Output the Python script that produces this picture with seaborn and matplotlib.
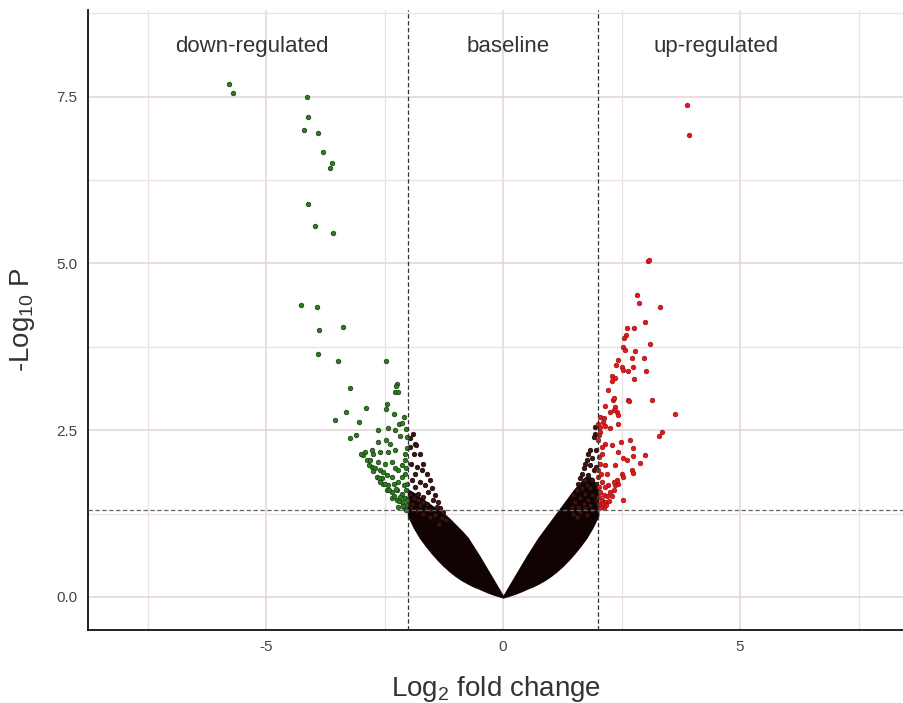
import numpy as np
import pandas as pd
import matplotlib
matplotlib.use("Agg")
import matplotlib.pyplot as plt
import seaborn as sns

# ---- significant genes, down-regulated (log2 FC < -2, p < 0.05) ----
down_x = [-5.78, -5.70, -4.14, -4.12, -4.20, -3.91, -3.81, -3.62, -3.66, -4.11,
          -3.97, -3.59, -4.27, -3.92, -3.89, -3.37, -3.91, -3.49, -2.48,
          -3.23, -2.24, -2.26, -2.28, -2.22, -2.89, -2.45, -2.47, -3.31, -3.54,
          -3.04, -2.31, -2.09, -2.19, -2.14, -2.42, -2.28, -2.64, -3.24, -3.10,
          -2.17, -2.64, -2.47, -2.38, -2.28, -2.02, -2.77, -2.75, -2.59, -2.91,
          -2.95, -3.00, -2.42, -2.88, -2.81, -2.63, -2.49, -2.35, -2.14, -2.07,
          -2.77, -2.70, -2.59, -2.53, -2.28, -2.21, -2.66, -2.56, -2.45, -2.35,
          -2.14, -2.07, -2.53, -2.42, -2.31, -2.21, -2.10, -2.45, -2.35, -2.24,
          -2.14, -2.05, -2.35, -2.24, -2.14, -2.07, -2.21, -2.10, -2.05,
          -2.84, -2.74, -2.62, -2.50, -2.40, -2.30, -2.20, -2.12, -2.04, -2.60,
          -2.27, -2.18, -2.03, -2.03, -2.04, -2.06, -2.02, -2.05]
down_y = [7.69, 7.56, 7.50, 7.20, 7.00, 6.95, 6.67, 6.51, 6.43, 5.89,
          5.56, 5.46, 4.37, 4.35, 4.00, 4.05, 3.65, 3.54, 3.54,
          3.13, 3.19, 3.16, 3.08, 3.08, 2.84, 2.90, 2.82, 2.77, 2.65,
          2.62, 2.75, 2.70, 2.60, 2.61, 2.53, 2.51, 2.50, 2.38, 2.43,
          2.41, 2.33, 2.35, 2.30, 2.21, 2.24, 2.21, 2.15, 2.18, 2.18,
          2.13, 2.14, 2.18, 2.05, 2.06, 2.03, 2.00, 2.03, 1.98, 2.05,
          1.95, 1.93, 1.90, 1.88, 1.93, 1.90, 1.80, 1.78, 1.83, 1.80,
          1.80, 1.85, 1.70, 1.68, 1.70, 1.73, 1.68, 1.60, 1.58, 1.60,
          1.55, 1.60, 1.48, 1.45, 1.43, 1.48, 1.35, 1.33, 1.38,
          1.98, 1.89, 1.79, 1.69, 1.60, 1.52, 1.44, 1.37, 1.31, 1.72,
          1.62, 1.50, 1.45, 1.70, 1.93, 2.15, 2.40, 2.52]

# ---- significant genes, up-regulated (log2 FC > 2, p < 0.05) ----
up_x = [3.88, 3.93, 3.05, 3.08, 2.82, 2.86, 3.31, 3.00, 2.61, 2.76,
        2.59, 2.55, 3.09, 2.54, 2.57, 2.79, 2.43, 2.71, 2.98, 2.38,
        2.50, 2.54, 2.75, 2.63, 3.01, 2.29, 2.36, 2.76, 2.22, 2.31,
        2.63, 3.14, 2.15, 2.36, 2.40, 2.34, 2.43, 3.63, 2.05, 2.12,
        2.01, 2.15, 2.26, 2.43, 3.35, 3.28, 2.05, 2.02, 2.01, 2.15,
        2.29, 2.48, 2.68, 2.74, 2.43, 2.08, 2.54, 2.61, 3.00, 2.75,
        2.89, 2.36, 2.15, 2.19, 2.71, 2.75, 2.50, 2.54, 2.40, 2.43,
        2.36, 2.33, 2.22, 2.15, 2.08, 2.05, 2.12, 2.08, 2.15, 2.19,
        2.26, 2.29, 2.33, 2.54, 2.05, 2.12, 2.01, 2.05, 2.01,
        2.03, 2.02, 2.06, 2.03, 2.08, 2.04, 2.10, 2.02, 2.10, 2.18, 2.24,
        2.29, 2.33, 2.65, 2.26]
up_y = [7.38, 6.92, 5.03, 5.05, 4.53, 4.40, 4.35, 4.13, 4.03, 4.03,
        3.93, 3.88, 3.79, 3.75, 3.70, 3.69, 3.56, 3.58, 3.59, 3.48,
        3.45, 3.40, 3.45, 3.39, 3.39, 3.31, 3.29, 3.27, 3.10, 2.96,
        2.95, 2.95, 2.86, 2.85, 2.78, 2.80, 2.73, 2.74, 2.70, 2.68,
        2.60, 2.56, 2.53, 2.60, 2.47, 2.41, 2.48, 2.43, 2.35, 2.30,
        2.28, 2.33, 2.35, 2.23, 2.18, 2.15, 2.08, 2.05, 2.13, 2.11,
        2.01, 1.98, 1.98, 1.85, 1.90, 1.86, 1.85, 1.80, 1.75, 1.70,
        1.68, 1.73, 1.68, 1.65, 1.73, 1.58, 1.53, 1.45, 1.43, 1.51,
        1.58, 1.51, 1.60, 1.45, 1.35, 1.33, 1.90, 2.00, 1.80,
        1.50, 1.65, 1.85, 2.10, 2.25, 2.55, 2.62, 1.40, 1.40, 1.38, 1.44,
        3.24, 2.99, 2.94, 2.78]

# ---- baseline genes in the sparse upper part of each arm ----
mid_x = [-1.91, -1.96, -1.86, -1.84, -1.75, -1.89, -1.68, -1.82, -1.72, -1.86,
         -1.61, -1.54, -1.75, -1.65, -1.86, -1.50, -1.58, -1.79, -1.68, -1.89,
         -1.43, -1.47, -1.61, -1.75, -1.37, -1.82, -1.54, -1.33, -1.68, -1.43,
         -1.26, -1.95, -1.93, -1.97, -1.95, -1.97, -1.40, -1.30, -1.20, -1.35,
         -1.55, -1.62, -1.70, -1.80, -1.92,
         1.94, 1.91, 1.84, 1.80, 1.87, 1.77, 1.73, 1.84, 1.70, 1.91,
         1.66, 1.80, 1.62, 1.73, 1.87, 1.59, 1.77, 1.66, 1.84, 1.55,
         1.73, 1.48, 1.87, 1.62, 1.80, 1.52, 1.70, 1.84, 1.59, 1.45,
         1.73, 1.87, 1.62, 1.48, 1.77, 1.55, 1.96, 1.97, 1.95, 1.96, 1.93]
mid_y = [2.45, 2.38, 2.30, 2.28, 2.15, 2.15, 2.00, 1.95, 1.90, 1.85,
         1.85, 1.76, 1.73, 1.68, 1.65, 1.63, 1.58, 1.55, 1.50, 1.48,
         1.53, 1.45, 1.40, 1.38, 1.43, 1.30, 1.30, 1.33, 1.25, 1.23,
         1.28, 2.00, 1.75, 1.55, 1.35, 2.25, 1.35, 1.18, 1.15, 1.10,
         1.20, 1.32, 1.42, 1.45, 1.40,
         2.45, 2.40, 2.20, 2.15, 2.08, 2.05, 2.00, 1.98, 1.93, 1.90,
         1.85, 1.83, 1.78, 1.75, 1.75, 1.70, 1.68, 1.63, 1.63, 1.60,
         1.55, 1.53, 1.53, 1.48, 1.45, 1.43, 1.40, 1.38, 1.35, 1.35,
         1.33, 1.30, 1.28, 1.25, 1.23, 1.20, 2.20, 1.95, 1.70, 1.45, 2.55]

# ---- envelope of the densely packed baseline genes (|log2 FC| vs -log10 P) ----
core_abs_fc = [0.0, 0.125, 0.25, 0.375, 0.5, 0.625, 0.75, 0.875, 1.0,
               1.125, 1.25, 1.375, 1.5, 1.625, 1.75, 1.875, 2.0]
core_low = [0.0, 0.025, 0.055, 0.09, 0.13, 0.165, 0.21, 0.26, 0.32,
            0.39, 0.47, 0.56, 0.66, 0.77, 0.89, 1.04, 1.22]
core_high_left = [0.0, 0.15, 0.30, 0.45, 0.60, 0.74, 0.88, 0.98, 1.07,
                  1.16, 1.24, 1.30, 1.36, 1.42, 1.48, 1.55, 1.60]
core_high_right = [0.0, 0.15, 0.30, 0.45, 0.60, 0.74, 0.88, 1.00, 1.12,
                   1.24, 1.36, 1.48, 1.60, 1.70, 1.80, 1.78, 1.60]

fc_cutoff = 2.0
p_cutoff = 1.3   # -log10(0.05)

x_ticks = [-5, 0, 5]
x_tick_labels = ["-5", "0", "5"]
y_ticks = [0.0, 2.5, 5.0, 7.5]
y_tick_labels = ["0.0", "2.5", "5.0", "7.5"]

region_labels = ["down-regulated", "baseline", "up-regulated"]
region_label_x = [-5.3, 0.1, 4.5]
region_label_y = 8.25

df = pd.concat([
    pd.DataFrame({"log2fc": down_x, "nlp": down_y, "group": "down"}),
    pd.DataFrame({"log2fc": up_x, "nlp": up_y, "group": "up"}),
    pd.DataFrame({"log2fc": mid_x, "nlp": mid_y, "group": "ns"}),
], ignore_index=True)

sns.set_theme(style="white")
plt.rcParams["font.family"] = ["Liberation Sans", "DejaVu Sans"]
plt.rcParams["mathtext.default"] = "regular"

fig = plt.figure(figsize=(9.04, 7.03), dpi=100)
ax = fig.add_axes([88 / 904, 73 / 703, 816 / 904, 620 / 703])
ax.set_xlim(-8.76, 8.46)
ax.set_ylim(-0.495, 8.80)

# grid: majors at ticks, minors half-way
ax.set_xticks(x_ticks)
ax.set_xticks([-7.5, -2.5, 2.5, 7.5], minor=True)
ax.set_yticks(y_ticks)
ax.set_yticks([1.25, 3.75, 6.25, 8.75], minor=True)
ax.grid(which="major", color="#e2d3d8", lw=1.1)
ax.grid(which="minor", color="#ebe1e4", lw=0.9)
ax.set_axisbelow(True)

# dense non-significant cloud
core_abs = np.array(core_abs_fc)
ax.fill_between(-core_abs, core_low, core_high_left, color="#120303",
                lw=1.5, edgecolor="#120303", zorder=2)
ax.fill_between(core_abs, core_low, core_high_right, color="#120303",
                lw=1.5, edgecolor="#120303", zorder=2)

styles = {
    "ns": dict(color="#3b1414", edgecolor="#1a0505"),
    "down": dict(color="#2f7a22", edgecolor="#143d0e"),
    "up": dict(color="#e31a1c", edgecolor="#a00d10"),
}
for grp in ["ns", "down", "up"]:
    sns.scatterplot(data=df[df["group"] == grp], x="log2fc", y="nlp",
                    s=11, linewidth=0.5, legend=False, ax=ax, zorder=3,
                    **styles[grp])

# cut-off lines
ax.axvline(-fc_cutoff, color="#333333", lw=0.9, ls=(0, (3.5, 2)), zorder=4)
ax.axvline(fc_cutoff, color="#333333", lw=0.9, ls=(0, (3.5, 2)), zorder=4)
ax.axhline(p_cutoff, color="#666666", lw=0.9, ls=(0, (3.5, 2)), zorder=4)

for txt, xx in zip(region_labels, region_label_x):
    ax.text(xx, region_label_y, txt, ha="center", va="center",
            fontsize=16, color="#333333")

ax.set_xticklabels(x_tick_labels)
ax.set_yticklabels(y_tick_labels)
for lab in ax.get_xticklabels() + ax.get_yticklabels():
    lab.set_family(["Liberation Sans Narrow", "Liberation Sans", "DejaVu Sans"])
ax.tick_params(which="major", length=4, width=1, color="#333333",
               labelsize=11, labelcolor="#444444", direction="out")
ax.tick_params(which="minor", length=0)

ax.set_xlabel(r"Log$_2$ fold change", fontsize=20, color="#333333", labelpad=14)
ax.set_ylabel(r"-Log$_{10}$ P", fontsize=20, color="#333333", labelpad=14)

for side in ["top", "right"]:
    ax.spines[side].set_visible(False)
for side in ["left", "bottom"]:
    ax.spines[side].set_color("#111111")
    ax.spines[side].set_linewidth(1.3)

fig.savefig("out.png", dpi=100)
